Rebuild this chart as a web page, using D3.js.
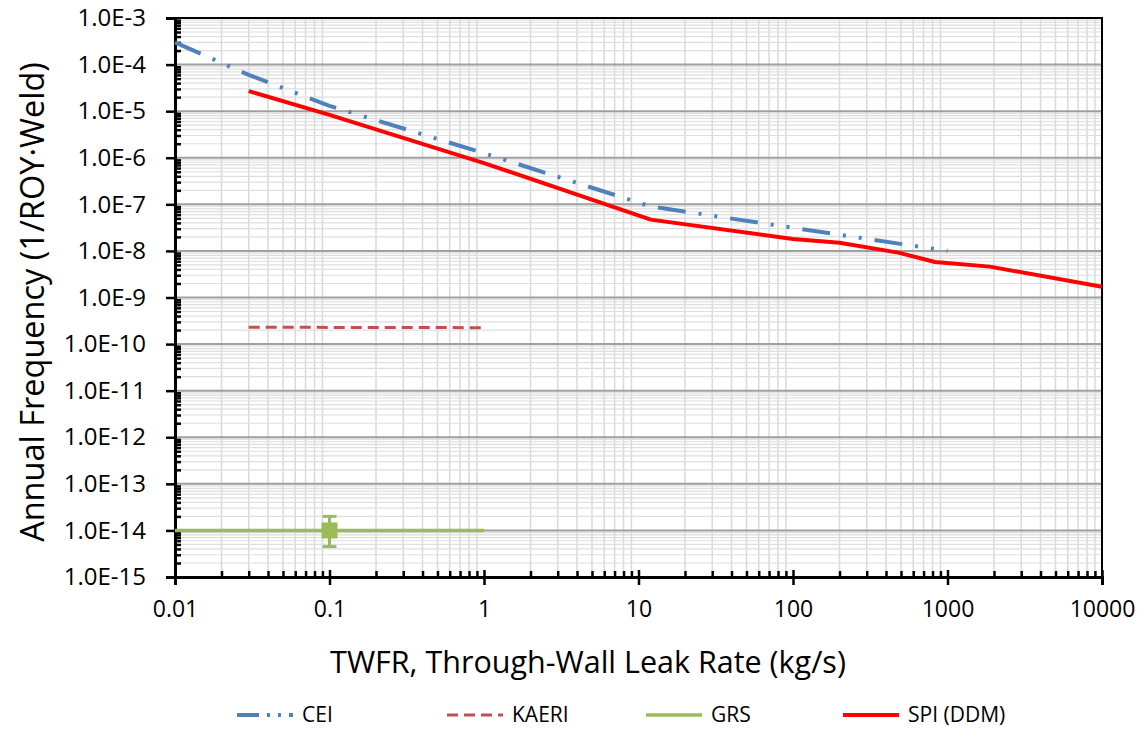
<!DOCTYPE html>
<html>
<head>
<meta charset="utf-8">
<script src="https://cdn.jsdelivr.net/npm/d3@7"></script>
<style>
  body { margin: 0; background: #fff; }
  svg text { font-family: "Open Sans", "Noto Sans", sans-serif; fill: #000; }
</style>
</head>
<body>
<svg id="chart" width="1148" height="740"></svg>
<script>
(function() {

// leak rate (kg/s) vs annual frequency
var ceiX = [0.01, 0.03, 0.1, 1, 12, 1000];
var ceiY = [3.0e-4, 6.0e-5, 1.3e-5, 1.25e-6, 9.0e-8, 1.0e-8];

var kaeriX = [0.03, 1];
var kaeriY = [2.3e-10, 2.25e-10];

var grsX = [0.01, 1];
var grsY = [1e-14, 1e-14];
var grsPointX = [0.1];
var grsPointY = [1e-14];
var grsErrLow = [4.5e-15];
var grsErrHigh = [2.0e-14];

var spiX = [0.03, 0.1, 1, 12, 100, 200, 480, 830, 1880, 10000];
var spiY = [2.7e-5, 8.3e-6, 7.7e-7, 4.7e-8, 1.8e-8, 1.5e-8, 9.2e-9, 5.8e-9, 4.6e-9, 1.7e-9];

var xTicks = [0.01, 0.1, 1, 10, 100, 1000, 10000];
var xTickLabels = ['0.01', '0.1', '1', '10', '100', '1000', '10000'];
var yTicks = [1e-3, 1e-4, 1e-5, 1e-6, 1e-7, 1e-8, 1e-9, 1e-10, 1e-11, 1e-12, 1e-13, 1e-14, 1e-15];
var yTickLabels = ['1.0E-3', '1.0E-4', '1.0E-5', '1.0E-6', '1.0E-7', '1.0E-8', '1.0E-9',
                   '1.0E-10', '1.0E-11', '1.0E-12', '1.0E-13', '1.0E-14', '1.0E-15'];

var seriesNames = ['CEI', 'KAERI', 'GRS', 'SPI (DDM)'];
var seriesColors = ['#4f81bd', '#c0504d', '#9bbb59', '#ff0000'];
var seriesDash = ['28,13,3,13,3,13', '11,6', null, null];
var seriesWidth = [4, 3, 3.5, 4];

var svg = d3.select('#chart');

var left = 175, right = 1102, top = 18, bottom = 577;

var x = d3.scaleLog().domain([0.01, 10000]).range([left, right]);
var y = d3.scaleLog().domain([1e-15, 1e-3]).range([bottom, top]);

// minor values 2..9 in every decade
function minors(lo, hi) {
    var out = [];
    for (var e = Math.round(Math.log10(lo)); e < Math.round(Math.log10(hi)); e++) {
        for (var m = 2; m <= 9; m++) out.push(m * Math.pow(10, e));
    }
    return out;
}
var xMinor = minors(0.01, 10000);
var yMinor = minors(1e-15, 1e-3);

var grid = svg.append('g');

// vertical grid
grid.selectAll('.vx')
    .data(xMinor)
  .enter().append('line')
    .attr('x1', function(d) { return x(d); })
    .attr('x2', function(d) { return x(d); })
    .attr('y1', top).attr('y2', bottom)
    .attr('stroke', '#d9d9d9').attr('stroke-width', 1.5);

// horizontal minor grid
grid.selectAll('.hy')
    .data(yMinor)
  .enter().append('line')
    .attr('x1', left).attr('x2', right)
    .attr('y1', function(d) { return y(d); })
    .attr('y2', function(d) { return y(d); })
    .attr('stroke', '#dedede').attr('stroke-width', 1.2);

// horizontal major grid
grid.selectAll('.hM')
    .data(yTicks)
  .enter().append('line')
    .attr('x1', left).attr('x2', right)
    .attr('y1', function(d) { return y(d); })
    .attr('y2', function(d) { return y(d); })
    .attr('stroke', '#9f9f9f').attr('stroke-width', 2);

// frame
svg.append('rect')
    .attr('x', left).attr('y', top)
    .attr('width', right - left).attr('height', bottom - top)
    .attr('fill', 'none').attr('stroke', '#000').attr('stroke-width', 2);

// y axis: major ticks out, minor ticks in
var yAxis = svg.append('g')
    .attr('transform', 'translate(' + left + ',0)')
    .call(d3.axisLeft(y).tickValues(yTicks).tickSize(9).tickPadding(20)
        .tickFormat(function(d, i) { return yTickLabels[i]; }));
yAxis.select('.domain').attr('stroke-width', 3);
yAxis.selectAll('.tick line').attr('stroke-width', 2.5);
yAxis.selectAll('text').style('font-size', '24px');

svg.append('g')
    .attr('transform', 'translate(' + left + ',0)')
    .call(d3.axisRight(y).tickValues(yMinor).tickSize(6).tickFormat(''))
    .call(function(g) { g.select('.domain').remove(); })
    .selectAll('.tick line').attr('stroke-width', 2.5);

// x axis: major ticks crossing, minor ticks in
var xAxis = svg.append('g')
    .attr('transform', 'translate(0,' + bottom + ')')
    .call(d3.axisBottom(x).tickValues(xTicks).tickSize(8).tickPadding(16)
        .tickFormat(function(d, i) { return xTickLabels[i]; }));
xAxis.select('.domain').attr('stroke-width', 3);
xAxis.selectAll('.tick line').attr('y1', -7).attr('stroke-width', 2.5);
xAxis.selectAll('text').style('font-size', '23px');

svg.append('g')
    .attr('transform', 'translate(0,' + bottom + ')')
    .call(d3.axisTop(x).tickValues(xMinor).tickSize(6).tickFormat(''))
    .call(function(g) { g.select('.domain').remove(); })
    .selectAll('.tick line').attr('stroke-width', 2.5);

// axis titles
svg.append('text')
    .attr('x', 588).attr('y', 673)
    .attr('text-anchor', 'middle')
    .style('font-size', '30.5px')
    .text('TWFR, Through-Wall Leak Rate (kg/s)');

svg.append('text')
    .attr('transform', 'translate(44,302) rotate(-90)')
    .attr('text-anchor', 'middle')
    .style('font-size', '32.5px')
    .text('Annual Frequency (1/ROY\u00b7Weld)');

// series lines
var line = d3.line()
    .x(function(d) { return x(d[0]); })
    .y(function(d) { return y(d[1]); });

var series = [
    d3.zip(ceiX, ceiY),
    d3.zip(kaeriX, kaeriY),
    d3.zip(grsX, grsY),
    d3.zip(spiX, spiY)
];

var plot = svg.append('g');

plot.selectAll('.series')
    .data(series)
  .enter().append('path')
    .attr('d', line)
    .attr('fill', 'none')
    .attr('stroke', function(d, i) { return seriesColors[i]; })
    .attr('stroke-width', function(d, i) { return seriesWidth[i]; })
    .attr('stroke-dasharray', function(d, i) { return seriesDash[i]; })
    .attr('stroke-linejoin', 'round');

// GRS point with error bar
var grsPts = d3.zip(grsPointX, grsPointY, grsErrLow, grsErrHigh);
var gp = plot.selectAll('.grs')
    .data(grsPts)
  .enter().append('g');
gp.append('line')
    .attr('x1', function(d) { return x(d[0]); })
    .attr('x2', function(d) { return x(d[0]); })
    .attr('y1', function(d) { return y(d[2]); })
    .attr('y2', function(d) { return y(d[3]); })
    .attr('stroke', seriesColors[2]).attr('stroke-width', 3);
[2, 3].forEach(function(k) {
    gp.append('line')
        .attr('x1', function(d) { return x(d[0]) - 7; })
        .attr('x2', function(d) { return x(d[0]) + 7; })
        .attr('y1', function(d) { return y(d[k]); })
        .attr('y2', function(d) { return y(d[k]); })
        .attr('stroke', seriesColors[2]).attr('stroke-width', 3);
});
gp.append('rect')
    .attr('x', function(d) { return x(d[0]) - 8; })
    .attr('y', function(d) { return y(d[1]) - 8; })
    .attr('width', 16).attr('height', 16)
    .attr('fill', seriesColors[2]);

// legend
var legendX = [237, 447, 646, 843];
var legend = svg.append('g').attr('transform', 'translate(0,715)');
var items = legend.selectAll('.item')
    .data(seriesNames)
  .enter().append('g')
    .attr('transform', function(d, i) { return 'translate(' + legendX[i] + ',0)'; });
items.append('line')
    .attr('x1', 0).attr('x2', 56)
    .attr('stroke', function(d, i) { return seriesColors[i]; })
    .attr('stroke-width', function(d, i) { return seriesWidth[i]; })
    .attr('stroke-dasharray', function(d, i) { return i === 0 ? '22,8,3,8,3,8' : seriesDash[i]; });
items.append('text')
    .attr('x', 65).attr('dy', '0.35em')
    .style('font-size', '21px')
    .text(function(d) { return d; });

})();
</script>
</body>
</html>
